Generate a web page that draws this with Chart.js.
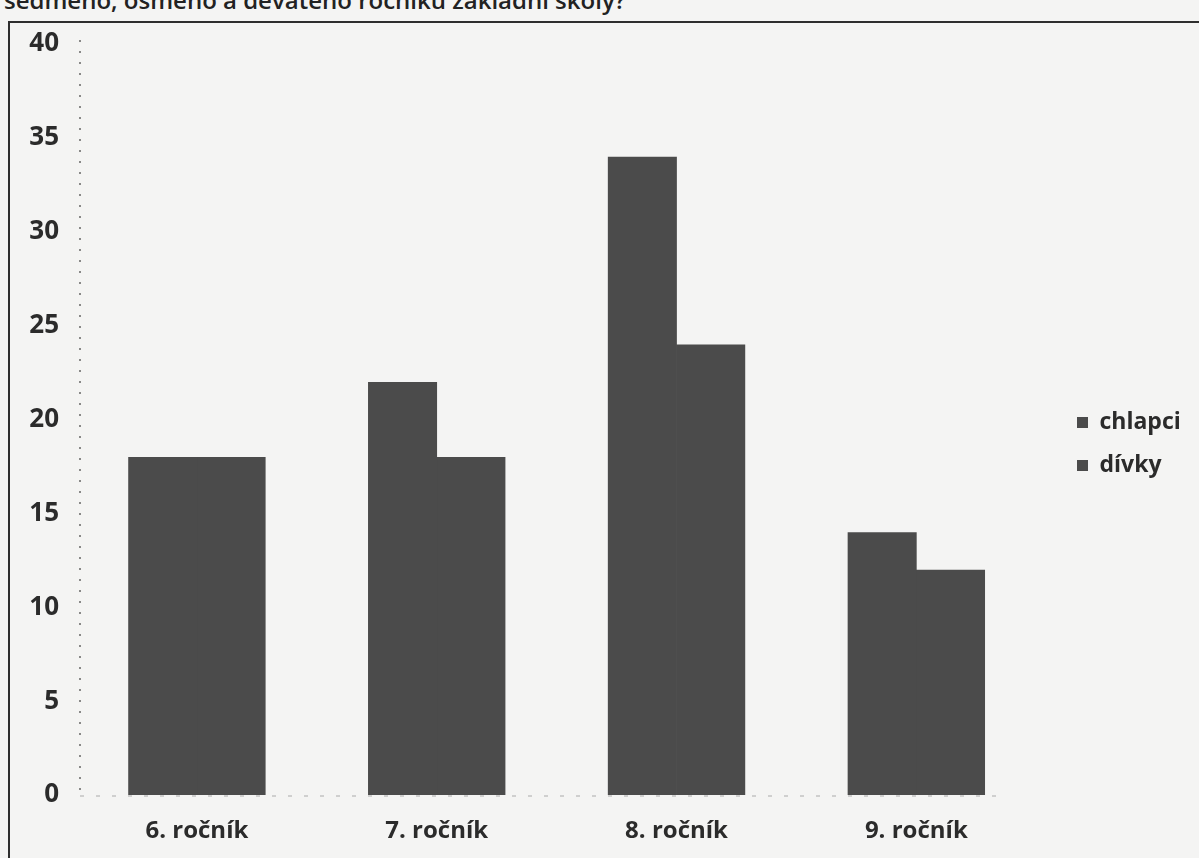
<!DOCTYPE html>
<html>
<head>
<meta charset="utf-8">
<script src="https://cdn.jsdelivr.net/npm/chart.js@4"></script>
<style>
  body { margin: 0; background: #f4f4f3; overflow: hidden; width: 1199px; height: 858px; position: relative; }
  #title { position: absolute; left: 4px; top: -17px; font: 600 24px "Open Sans", sans-serif; color: #222; white-space: nowrap; }
  #box { position: absolute; left: 8px; top: 21px; width: 1300px; height: 900px; border: 2px solid #2e2e2e; }
  #wrap { position: absolute; left: 0; top: 0; width: 1189px; height: 837px; }
</style>
</head>
<body>
<div id="title">sedmého, osmého a devátého ročníku základní školy?</div>
<div id="box"><div id="wrap"><canvas id="c"></canvas></div></div>
<script>
// hodnoty
var categories = ['6. ročník', '7. ročník', '8. ročník', '9. ročník'];
var chlapci = [18, 22, 34, 14];
var divky = [18, 18, 24, 12];
var yTicks = [0, 5, 10, 15, 20, 25, 30, 35, 40];

var barColor = '#4b4b4b';
var font = { family: '"Open Sans", sans-serif', weight: 'bold' };

// tečkované osy jako na skenu + posun legendy
var axesPlugin = {
    id: 'axes',
    afterLayout: function (chart) {
        var lg = chart.legend;
        var w = lg.right - lg.left, h = lg.bottom - lg.top;
        lg.left = 1047; lg.right = lg.left + w;
        lg.top -= 8; lg.bottom = lg.top + h;
    },
    afterDatasetsDraw: function (chart) {
        var a = chart.chartArea, c = chart.ctx;
        c.save();
        c.setLineDash([2, 9]);
        c.strokeStyle = '#666';
        c.lineWidth = 1.5;
        c.beginPath();
        c.moveTo(a.left + 3, a.top - 4);
        c.lineTo(a.left + 3, a.bottom + 4);
        c.stroke();
        c.setLineDash([4, 12]);
        c.strokeStyle = '#aaa';
        c.lineWidth = 1;
        c.beginPath();
        c.moveTo(a.left + 3, a.bottom + 1);
        c.lineTo(a.right - 30, a.bottom + 1);
        c.stroke();
        c.restore();
    }
};

var ctx = document.getElementById('c').getContext('2d');
var myChart = new Chart(ctx, {
    type: 'bar',
    data: {
        labels: categories,
        datasets: [
            { label: 'chlapci', data: chlapci, backgroundColor: barColor },
            { label: 'dívky', data: divky, backgroundColor: barColor }
        ]
    },
    options: {
        responsive: true,
        maintainAspectRatio: false,
        animation: false,
        datasets: { bar: { categoryPercentage: 0.57, barPercentage: 1.01 } },
        layout: { padding: { top: 21, left: 0, right: 29, bottom: 0 } },
        scales: {
            x: {
                grid: { display: false, drawTicks: false },
                border: { display: false },
                ticks: { padding: 22, color: '#2b2b2b', font: Object.assign({ size: 24 }, font) },
                afterFit: function (s) { s.height = 65; }
            },
            y: {
                min: 0,
                max: 40,
                afterBuildTicks: function (s) { s.ticks = yTicks.map(v => ({ value: v })); },
                grid: { display: false, drawTicks: false },
                border: { display: false },
                ticks: { padding: 18, color: '#2b2b2b', font: Object.assign({ size: 26 }, font) },
                afterFit: function (s) { s.width = 67; s.paddingTop = 0; s.paddingBottom = 0; }
            }
        },
        plugins: {
            title: { display: false },
            tooltip: { enabled: false },
            legend: {
                display: true,
                position: 'right',
                labels: {
                    boxWidth: 11,
                    boxHeight: 11,
                    padding: 20,
                    color: '#2b2b2b',
                    font: Object.assign({ size: 23 }, font)
                }
            }
        }
    },
    plugins: [axesPlugin]
});
</script>
</body>
</html>
